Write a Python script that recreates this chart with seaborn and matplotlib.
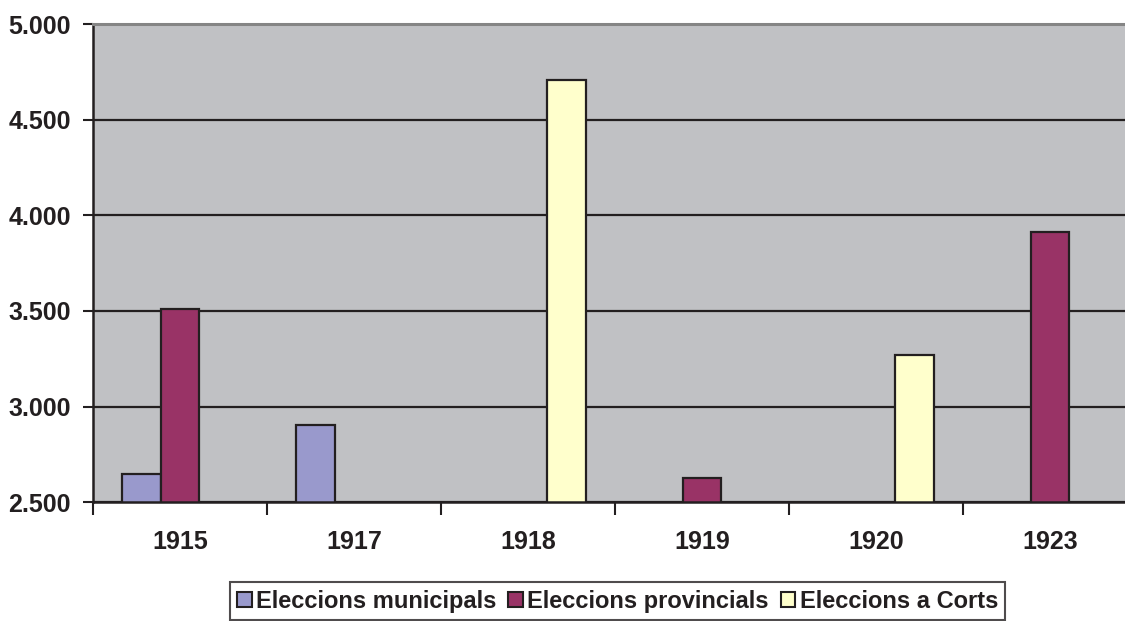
import matplotlib
matplotlib.use("Agg")
import matplotlib.pyplot as plt
import seaborn as sns
import pandas as pd
import numpy as np
from matplotlib.ticker import FixedLocator, FuncFormatter

years = ["1915", "1917", "1918", "1919", "1920", "1923"]
series = ["Eleccions municipals", "Eleccions provincials", "Eleccions a Corts"]
municipals = [2645, 2905, np.nan, np.nan, np.nan, np.nan]
provincials = [3508, np.nan, np.nan, 2626, np.nan, 3911]
corts = [np.nan, np.nan, 4710, np.nan, 3268, np.nan]
colors = ["#9999CC", "#993366", "#FFFFCC"]

rows = []
for s, vals in zip(series, [municipals, provincials, corts]):
    for y, v in zip(years, vals):
        rows.append({"year": y, "serie": s, "value": v})
df = pd.DataFrame(rows)

sns.set_style("white")
plt.rcParams["font.family"] = ["Liberation Sans", "DejaVu Sans"]
plt.rcParams["font.weight"] = "bold"

fig = plt.figure(figsize=(11.25, 6.21), dpi=100)
ax = fig.add_axes([0.08267, 0.1916, 0.928, 0.769])
ax.set_facecolor("#C0C1C4")

sns.barplot(data=df, x="year", y="value", hue="serie", hue_order=series,
            order=years, palette=colors, saturation=1, width=0.667, ax=ax,
            edgecolor="#231F20", linewidth=1.6, zorder=3, legend=True)

ax.set_ylim(2500, 5000)
ax.set_xlim(-0.5, 5.5)
ax.set_yticks([2500, 3000, 3500, 4000, 4500, 5000])
ax.yaxis.set_major_formatter(FuncFormatter(lambda v, p: f"{int(v):,}".replace(",", ".")))
ax.grid(axis="y", color="#231F20", linewidth=1.6, zorder=1)
ax.grid(axis="x", visible=False)
ax.set_axisbelow(True)

ax.spines["right"].set_visible(False)
ax.spines["top"].set_color("#858585")
ax.spines["top"].set_linewidth(2.2)
ax.spines["top"].set_zorder(6)
for side in ["left", "bottom"]:
    ax.spines[side].set_color("#231F20")
    ax.spines[side].set_linewidth(1.8)
    ax.spines[side].set_zorder(5)

ax.tick_params(axis="y", direction="out", length=7, width=1.5, color="#231F20",
               left=True, labelsize=18, labelcolor="#231F20", pad=9)
ax.tick_params(axis="x", which="major", length=0, labelsize=18, labelcolor="#231F20", pad=20)
ax.xaxis.set_minor_locator(FixedLocator(np.arange(-0.5, 6.0, 1.0)))
ax.tick_params(axis="x", which="minor", direction="out", length=9, width=1.5,
               color="#231F20", bottom=True)
for lbl in ax.get_xticklabels() + ax.get_yticklabels():
    lbl.set_fontweight("bold")
ax.set_xlabel("")
ax.set_ylabel("")

ax.get_legend().remove()
handles, labels = ax.get_legend_handles_labels()
leg = fig.legend(handles, labels, loc="upper center", bbox_to_anchor=(0.549, 0.062),
                 ncol=3, frameon=True, fancybox=False, fontsize=17,
                 handlelength=0.6, handleheight=0.6, handletextpad=0.2,
                 columnspacing=0.5, borderpad=0.3, borderaxespad=0)
leg.get_frame().set_edgecolor("#231F20")
leg.get_frame().set_linewidth(1.5)
for h in leg.legend_handles:
    h.set_edgecolor("#231F20")
    h.set_linewidth(1.5)
for t in leg.get_texts():
    t.set_fontweight("bold")
    t.set_color("#231F20")

fig.savefig("out.png", dpi=100)
